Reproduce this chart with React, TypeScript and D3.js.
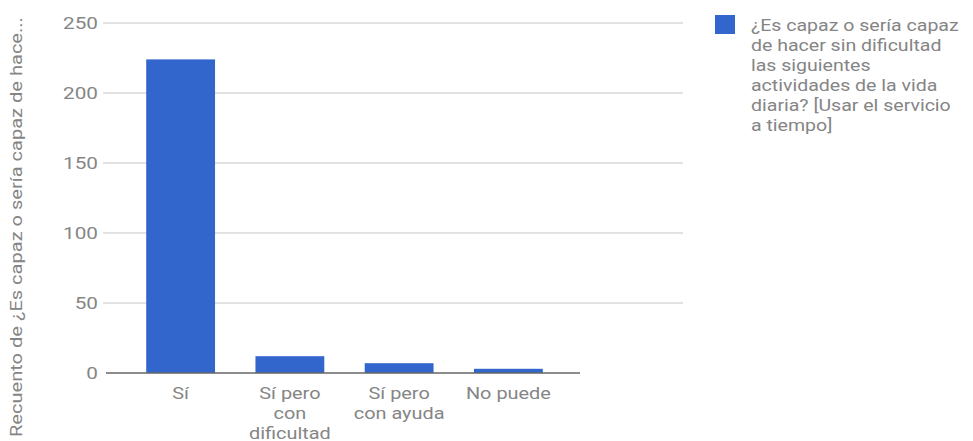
import React from "react";
import * as d3 from "d3";

const categories: string[][] = [["Sí"], ["Sí pero", "con", "dificultad"], ["Sí pero", "con ayuda"], ["No puede"]];
const values: number[] = [224, 12, 7, 3];
const yTicks: number[] = [0, 50, 100, 150, 200, 250];
const legendLines: string[] = [
  "¿Es capaz o sería capaz",
  "de hacer sin dificultad",
  "las siguientes",
  "actividades de la vida",
  "diaria? [Usar el servicio",
  "a tiempo]",
];
const yTitle = "Recuento de ¿Es capaz o sería capaz de hace...";

const W = 973;
const H = 441;
const FONT = "Roboto, 'Liberation Sans', Arial, sans-serif";
const TEXT = "#858585";
const BLUE = "#3366cc";
const FS = 17;

export default function App() {
  const y = d3.scaleLinear().domain([0, 250]).range([373, 23]);
  const x = d3
    .scaleBand<number>()
    .domain(d3.range(categories.length))
    .range([126, 563])
    .paddingInner(0.37)
    .paddingOuter(0.185);

  return (
    <div style={{ position: "absolute", left: 0, top: 0 }}>
      <svg width={W} height={H} style={{ display: "block", background: "#fff" }} fontFamily={FONT}>
        {yTicks.map((t) => (
          <g key={t}>
            {t !== 0 && (
              <line x1={103} x2={683} y1={y(t)} y2={y(t)} stroke="#d9d9d9" strokeWidth={1.5} />
            )}
            <text
              transform={`translate(98,${y(t)}) scale(1.22,1)`}
              dy="0.35em"
              textAnchor="end"
              fontSize={FS}
              fill={TEXT}
            >
              {t}
            </text>
          </g>
        ))}
        {values.map((v, i) => (
          <rect
            key={i}
            x={x(i)}
            y={y(v)}
            width={x.bandwidth()}
            height={y(0) - y(v)}
            fill={BLUE}
          />
        ))}
        <line x1={106} x2={580} y1={y(0)} y2={y(0)} stroke="#666" strokeWidth={1.5} />
        {categories.map((lines, i) => (
          <text
            key={i}
            transform={`translate(${(x(i) as number) + x.bandwidth() / 2},393) scale(1.17,1)`}
            textAnchor="middle"
            fontSize={FS}
            fill={TEXT}
          >
            {lines.map((l, j) => (
              <tspan key={j} x={0} dy={j === 0 ? "0.35em" : 20}>
                {l}
              </tspan>
            ))}
          </text>
        ))}
        <text
          transform="translate(16,437) rotate(-90) scale(1.18,1)"
          textAnchor="start"
          dy="0.35em"
          fontSize={FS}
          fill={TEXT}
        >
          {yTitle}
        </text>
        <rect x={715} y={15} width={20} height={19} fill={BLUE} />
        <text transform="translate(751,0) scale(1.15,1)" fontSize={FS} fill={TEXT}>
          {legendLines.map((l, j) => (
            <tspan key={j} x={0} y={25 + j * 20} dy="0.35em">
              {l}
            </tspan>
          ))}
        </text>
      </svg>
    </div>
  );
}
